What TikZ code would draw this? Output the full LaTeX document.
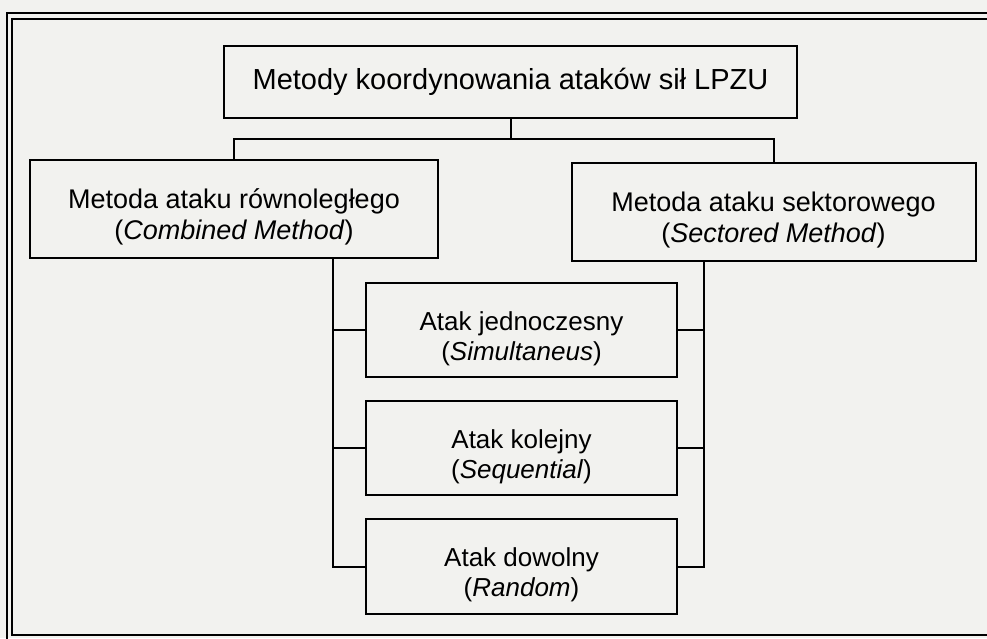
\documentclass[tikz,border=0pt]{standalone}
\usepackage{fontspec}
\setmainfont{Liberation Sans}
\definecolor{paper}{RGB}{242,242,239}
\newcommand\lift{\rule{0pt}{36pt}}
\begin{document}
\begin{tikzpicture}[x=1pt,y=-1pt,line width=2pt,
  box/.style={draw,align=center,inner sep=0pt,outer sep=0pt,
    font=\fontsize{26}{30}\selectfont},
  frame/.style={line width=2.6pt}]
\useasboundingbox[fill=paper] (0,0) rectangle (987,638);
\draw[frame] (1000,13) -| (7,650);
\draw[frame] (1000,19) -| (12,635) -- (1000,635);
\node[box,minimum width=573pt,minimum height=72pt,font=\fontsize{29}{32}\selectfont] (coord) at (510.5,82) {Metody koordynowania ataków sił LPZU};
\node[box,minimum width=408pt,minimum height=98pt,font=\fontsize{27}{31}\selectfont] (combined) at (234,209) {\lift Metoda ataku równoległego\\(\textit{Combined Method})};
\node[box,minimum width=404pt,minimum height=98pt,font=\fontsize{27}{31}\selectfont] (sectored) at (773.5,212) {\lift Metoda ataku sektorowego\\(\textit{Sectored Method})};
\node[box,minimum width=311pt,minimum height=94pt] (simul) at (521.5,330) {\lift Atak jednoczesny\\(\textit{Simultaneus})};
\node[box,minimum width=311pt,minimum height=94pt] (seq) at (521.5,448) {\lift Atak kolejny\\(\textit{Sequential})};
\node[box,minimum width=311pt,minimum height=95pt] (random) at (521.5,566.5) {\lift Atak dowolny\\(\textit{Random})};
\draw (coord.south) -- ++(0,21) coordinate (split);
\draw (combined.north) |- (split) -| (sectored.north);
\coordinate (lbus) at (333,0);
\coordinate (rbus) at (704,0);
\draw (combined.south -| lbus) |- (random.west);
\draw (sectored.south -| rbus) |- (random.east);
\foreach \n in {simul,seq}
  \draw (\n.west) -- (\n.west -| lbus) (\n.east) -- (\n.east -| rbus);
\end{tikzpicture}
\end{document}
